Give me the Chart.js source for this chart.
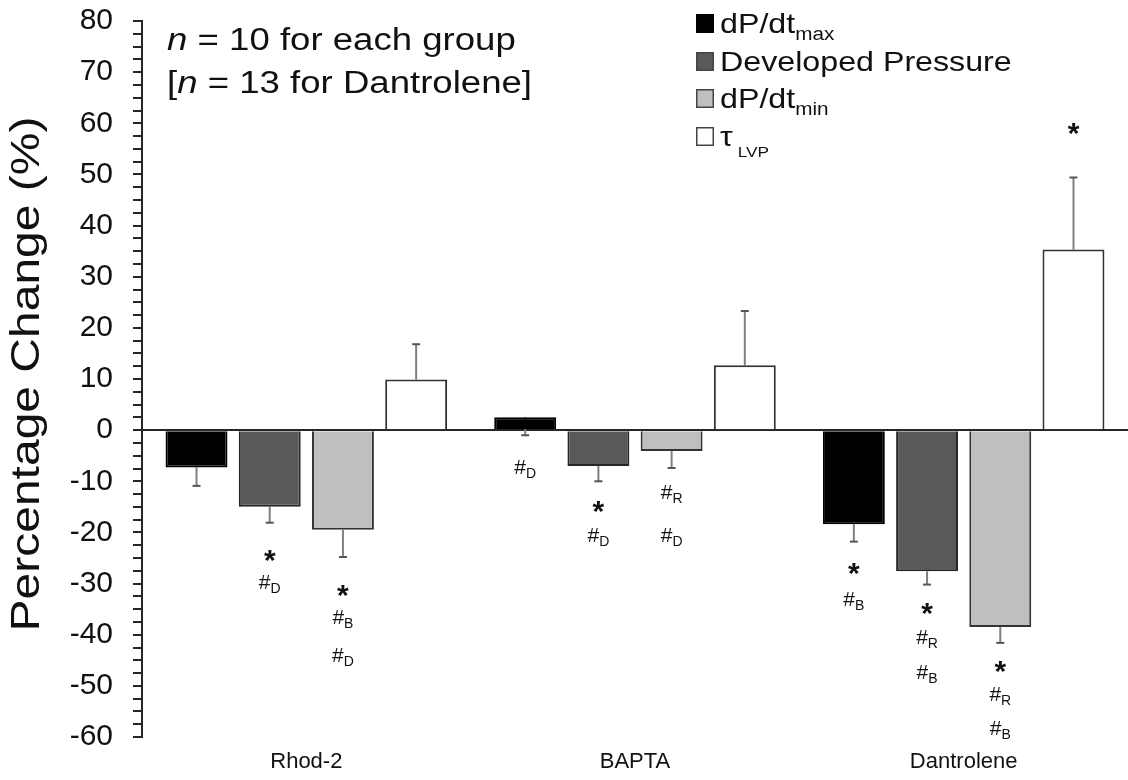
<!DOCTYPE html>
<html>
<head>
<meta charset="utf-8">
<script src="https://cdn.jsdelivr.net/npm/chart.js@4/dist/chart.umd.min.js"></script>
<style>
  html, body { margin: 0; background: #fff; }
  canvas { display: block; }
</style>
</head>
<body>
<canvas id="chart" width="1128" height="780"></canvas>
<script>
// groups and series
const groups = ['Rhod-2', 'BAPTA', 'Dantrolene'];
const yTicks = [-60, -50, -40, -30, -20, -10, 0, 10, 20, 30, 40, 50, 60, 70, 80];

// mean percentage change
const dpdtMax = [-7.3, 2.5, -18.4];
const devPressure = [-15.0, -7.0, -27.6];
const dpdtMin = [-19.5, -4.1, -38.5];
const tauLvp = [9.9, 12.7, 35.3];

// signed SEM (error bar runs from the mean to mean + sem)
const dpdtMaxSem = [-3.6, -3.5, -3.4];
const devPressureSem = [-3.1, -3.0, -2.6];
const dpdtMinSem = [-5.3, -3.3, -3.1];
const tauLvpSem = [6.9, 10.6, 14.1];

// significance marks: [symbol, subscript, level on the y scale]
const dpdtMaxMarks = [[], [['#', 'D', -7.2]], [['*', '', -27.2], ['#', 'B', -33.0]]];
const devPressureMarks = [
  [['*', '', -24.6], ['#', 'D', -29.6]],
  [['*', '', -15.0], ['#', 'D', -20.5]],
  [['*', '', -34.9], ['#', 'R', -40.4], ['#', 'B', -47.3]]
];
const dpdtMinMarks = [
  [['*', '', -31.5], ['#', 'B', -36.5], ['#', 'D', -44.0]],
  [['#', 'R', -12.1], ['#', 'D', -20.5]],
  [['*', '', -46.4], ['#', 'R', -51.5], ['#', 'B', -58.3]]
];
const tauLvpMarks = [[], [], [['*', '', 58.9]]];

const FONT = '"Liberation Sans", Arial, sans-serif';
const STRETCH = 1.15; // the hand-drawn labels are a bit wide

const series = [
  { main: 'dP/dt', sub: 'max', data: dpdtMax, sem: dpdtMaxSem, marks: dpdtMaxMarks, fill: '#000000', edge: '#000000' },
  { main: 'Developed Pressure', sub: '', data: devPressure, sem: devPressureSem, marks: devPressureMarks, fill: '#595959', edge: '#262626' },
  { main: 'dP/dt', sub: 'min', data: dpdtMin, sem: dpdtMinSem, marks: dpdtMinMarks, fill: '#bfbfbf', edge: '#333333' },
  { main: 'τ', sub: 'LVP', data: tauLvp, sem: tauLvpSem, marks: tauLvpMarks, fill: '#ffffff', edge: '#333333' }
];

function wideText(ctx, text, x, y, sx) {
  ctx.save();
  ctx.translate(x, y);
  ctx.scale(sx, 1);
  ctx.fillText(text, 0, 0);
  ctx.restore();
  return ctx.measureText(text).width * sx;
}

// error bars go behind the bars
const errorBars = {
  id: 'errorBars',
  beforeDatasetsDraw(chart) {
    const ctx = chart.ctx;
    const y = chart.scales.y;
    ctx.save();
    series.forEach((s, i) => {
      chart.getDatasetMeta(i).data.forEach((bar, j) => {
        const y0 = y.getPixelForValue(s.data[j]);
        const y1 = y.getPixelForValue(s.data[j] + s.sem[j]);
        ctx.strokeStyle = '#7f7f7f';
        ctx.lineWidth = 2;
        ctx.beginPath();
        ctx.moveTo(bar.x, y0);
        ctx.lineTo(bar.x, y1);
        ctx.stroke();
        ctx.strokeStyle = '#555';
        ctx.beginPath();
        ctx.moveTo(bar.x - 4, y1);
        ctx.lineTo(bar.x + 4, y1);
        ctx.stroke();
      });
    });
    ctx.restore();
  }
};

// stars and # marks under / over the bars
const sigLabels = {
  id: 'sigLabels',
  afterDatasetsDraw(chart) {
    const ctx = chart.ctx;
    const y = chart.scales.y;
    ctx.save();
    ctx.fillStyle = '#111';
    ctx.textAlign = 'left';
    ctx.textBaseline = 'alphabetic';
    series.forEach((s, i) => {
      chart.getDatasetMeta(i).data.forEach((bar, j) => {
        s.marks[j].forEach(([sym, sub, level]) => {
          const cy = y.getPixelForValue(level);
          if (sym === '*') {
            ctx.font = 'bold 30px ' + FONT;
            const m = ctx.measureText('*');
            const base = cy + (m.actualBoundingBoxAscent - m.actualBoundingBoxDescent) / 2;
            ctx.fillText('*', bar.x - m.width / 2, base);
          } else {
            ctx.font = '21px ' + FONT;
            const m = ctx.measureText('#');
            ctx.font = '14px ' + FONT;
            const ws = ctx.measureText(sub).width;
            const x0 = bar.x - (m.width + ws) / 2;
            const base = cy + (m.actualBoundingBoxAscent - m.actualBoundingBoxDescent) / 2;
            ctx.font = '21px ' + FONT;
            ctx.fillText('#', x0, base);
            ctx.font = '14px ' + FONT;
            ctx.fillText(sub, x0 + m.width, base + 4);
          }
        });
      });
    });
    ctx.restore();
  }
};

// legend, group sizes and the y title
const decorations = {
  id: 'decorations',
  afterDraw(chart) {
    const ctx = chart.ctx;
    ctx.save();
    ctx.fillStyle = '#111';
    ctx.textBaseline = 'alphabetic';
    ctx.textAlign = 'left';

    // y axis title
    ctx.save();
    ctx.translate(39, 374);
    ctx.rotate(-Math.PI / 2);
    ctx.scale(1.2, 1);
    ctx.font = '40px ' + FONT;
    ctx.textAlign = 'center';
    ctx.fillText('Percentage Change (%)', 0, 0);
    ctx.restore();

    // group sizes
    const noteLines = [['n', ' = 10 for each group', '', 50], ['n', ' = 13 for Dantrolene]', '[', 93]];
    noteLines.forEach(([it, rest, pre, base]) => {
      let x = 167;
      ctx.font = '31px ' + FONT;
      if (pre) x += wideText(ctx, pre, x, base, 1.18);
      ctx.font = 'italic 31px ' + FONT;
      x += wideText(ctx, it, x, base, 1.18);
      ctx.font = '31px ' + FONT;
      wideText(ctx, rest, x, base, 1.18);
    });

    // legend
    const rowBase = [33, 71, 108, 146];
    series.forEach((s, i) => {
      const base = rowBase[i];
      ctx.fillStyle = s.fill;
      ctx.fillRect(696, base - 19, 18, 19);
      ctx.strokeStyle = i === 0 ? '#000' : '#444';
      ctx.lineWidth = 1.5;
      ctx.strokeRect(696.75, base - 18.25, 16.5, 17.5);
      ctx.fillStyle = '#111';
      ctx.font = '28px ' + FONT;
      let x = 720 + wideText(ctx, s.main, 720, base, STRETCH);
      if (s.sub === 'LVP') {
        ctx.font = '15px ' + FONT;
        wideText(ctx, s.sub, x + 5, base + 11, STRETCH);
      } else if (s.sub) {
        ctx.font = '18px ' + FONT;
        wideText(ctx, s.sub, x, base + 7, STRETCH);
      }
    });
    ctx.restore();
  }
};

new Chart(document.getElementById('chart'), {
  type: 'bar',
  data: {
    labels: groups,
    datasets: series.map(s => ({
      label: s.main + s.sub,
      data: s.data,
      backgroundColor: s.fill,
      borderColor: s.edge,
      borderWidth: 2,
      barPercentage: 0.846,
      categoryPercentage: 0.891
    }))
  },
  options: {
    responsive: false,
    animation: false,
    devicePixelRatio: 1,
    layout: { padding: { top: 21, left: 0, right: 0, bottom: 0 } },
    plugins: {
      legend: { display: false },
      tooltip: { enabled: false }
    },
    scales: {
      x: {
        grid: { display: false, drawTicks: false },
        border: { display: false },
        ticks: { color: '#111', font: { family: FONT, size: 22 }, padding: 12 },
        afterFit(axis) { axis.height = 43; }
      },
      y: {
        min: -60,
        max: 80,
        afterFit(axis) {
          axis.width = 142;
          axis.paddingTop = 0;
          axis.paddingBottom = 0;
        },
        border: { color: '#262626', width: 2 },
        grid: {
          color: c => (c.tick && c.tick.value === 0 ? '#262626' : 'rgba(0,0,0,0)'),
          tickColor: '#262626',
          tickLength: 9,
          lineWidth: 2
        },
        ticks: {
          stepSize: 2.5,
          autoSkip: false,
          padding: 20,
          color: '#111',
          font: { family: FONT, size: 30 },
          callback: v => (yTicks.includes(v) ? String(v) : '')
        }
      }
    }
  },
  plugins: [errorBars, sigLabels, decorations]
});
</script>
</body>
</html>
